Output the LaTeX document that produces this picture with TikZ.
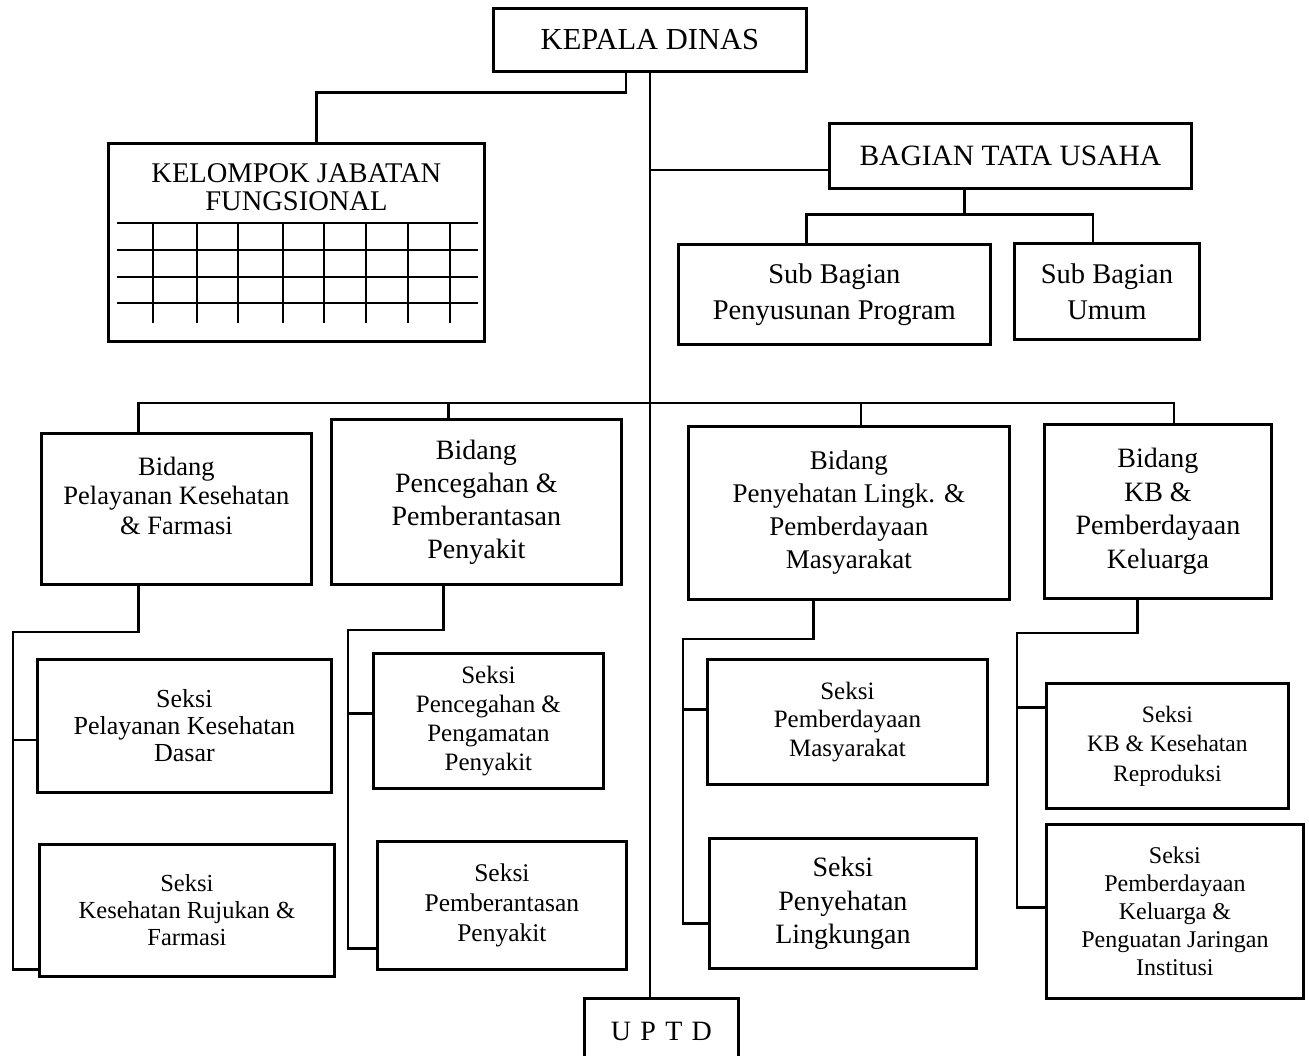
\documentclass[tikz,border=0pt]{standalone}
\usepackage{fontspec}
\setmainfont{Liberation Serif}

\tikzset{
  box/.style={draw, line width=2.8pt, align=center, anchor=north west, inner sep=0pt},
  link/.style={line width=2.6pt},
  grid/.style={line width=1.9pt},
  fs/.style 2 args={font=\fontsize{#1}{#2}\selectfont},
}

\begin{document}
\begin{tikzpicture}[x=1pt, y=-1pt]
  \useasboundingbox (0,0) rectangle (1309,1056);
  \clip (0,0) rectangle (1309,1056);

  % top level
  \node[box, fs={30.5}{34}, minimum width=313pt, minimum height=63pt] (kd) at (492,7) {KEPALA DINAS};
  \node[box, minimum width=376pt, minimum height=198pt,
        label={[fs={28.5}{28}, align=center, yshift=55pt]center:KELOMPOK JABATAN\\FUNGSIONAL}] (kjf) at (107,142) {};
  \node[box, fs={29.5}{34}, minimum width=362pt, minimum height=65pt] (btu) at (828,122) {BAGIAN TATA USAHA};
  \node[box, fs={28.5}{36}, minimum width=312pt, minimum height=100pt] (sbp) at (677,243) {Sub Bagian\\Penyusunan Program};
  \node[box, fs={28.5}{36}, minimum width=185pt, minimum height=96pt] (sbu) at (1013,242) {Sub Bagian\\Umum};

  % grid in kelompok jabatan fungsional
  \foreach \y in {223,250,277,303}
    \draw[grid] (117,\y) -- (478,\y);
  \foreach \x in {153,197,238,283,324,366,408,450}
    \draw[grid] (\x,223) -- (\x,323);

  % bidang
  \node[box, minimum width=270pt, minimum height=151pt,
        label={[fs={26.5}{29.5}, align=center, yshift=13pt]center:Bidang\\Pelayanan Kesehatan\\\& Farmasi}] (b1) at (40,432) {};
  \node[box, fs={28}{33}, minimum width=290pt, minimum height=165pt] (b2) at (330,418) {Bidang\\Pencegahan \&\\Pemberantasan\\Penyakit};
  \node[box, fs={27}{33}, minimum width=321pt, minimum height=173pt] (b3) at (687,425) {Bidang\\Penyehatan Lingk. \&\\Pemberdayaan\\Masyarakat};
  \node[box, fs={28}{33.5}, minimum width=227pt, minimum height=174pt] (b4) at (1043,423) {Bidang\\KB \&\\Pemberdayaan\\Keluarga};

  % seksi
  \node[box, fs={26}{27}, minimum width=294pt, minimum height=133pt] (s1) at (36,658) {Seksi\\Pelayanan Kesehatan\\Dasar};
  \node[box, fs={24.5}{27}, minimum width=295pt, minimum height=132pt] (s2) at (38,843) {Seksi\\Kesehatan Rujukan \&\\Farmasi};
  \node[box, fs={25}{29}, minimum width=230pt, minimum height=135pt] (s3) at (372,652) {Seksi\\Pencegahan \&\\Pengamatan\\Penyakit};
  \node[box, fs={25.5}{30}, minimum width=249pt, minimum height=128pt] (s4) at (376,840) {Seksi\\Pemberantasan\\Penyakit};
  \node[box, fs={25}{28.5}, minimum width=280pt, minimum height=125pt] (s5) at (706,658) {Seksi\\Pemberdayaan\\Masyarakat};
  \node[box, fs={28}{33.5}, minimum width=267pt, minimum height=130pt] (s6) at (708,837) {Seksi\\Penyehatan\\Lingkungan};
  \node[box, fs={23.5}{29.5}, minimum width=242pt, minimum height=125pt] (s7) at (1045,682) {Seksi\\KB \& Kesehatan\\Reproduksi};
  \node[box, fs={24}{28}, minimum width=257pt, minimum height=174pt] (s8) at (1045,823) {Seksi\\Pemberdayaan\\Keluarga \&\\Penguatan Jaringan\\Institusi};

  \node[box, fs={28}{34}, minimum width=154pt, minimum height=66pt] (uptd) at (583,997) {U\,\,P\,\,T\,\,D};

  % lines from kepala dinas
  \draw[link] ([xshift=-24pt]kd.south) -- ++(0,20) -| ([xshift=20pt]kjf.north);
  \draw[link] (kd.south) -- (kd.south |- uptd.north);
  \draw[link] ([yshift=-14pt]btu.west) -- ([yshift=-14pt]btu.west -| kd.south);
  \draw[link] ([xshift=-46pt]btu.south) -- ++(0,25) coordinate (tu);
  \draw[link] ([xshift=-28pt]sbp.north) |- (tu) -| ([xshift=-14pt]sbu.north);

  % bar over the bidang
  \path (kd.south) ++(0,330) coordinate (bar);
  \draw[link] ([xshift=-38pt]b1.north) |- (bar) -| ([xshift=16pt]b4.north);
  \draw[link] ([xshift=-28pt]b2.north) -- ([xshift=-28pt]b2.north |- bar);
  \draw[link] ([xshift=12pt]b3.north) -- ([xshift=12pt]b3.north |- bar);

  % bidang to seksi
  \foreach \up/\dx/\rx/\ry/\ca/\dya/\cb/\dyb in {
      b1/-38/13/632/s1/-14/s2/-59,
      b2/-33/348/630/s3/7.5/s4/-43,
      b3/-35.5/683/639/s5/12.5/s6/-20,
      b4/-20.5/1017/633/s7/38.5/s8/4}
  {
    \coordinate (rail) at (\rx,\ry);
    \draw[link] ([xshift=\dx pt]\up.south) |- (rail) |- ([yshift=\dyb pt]\cb.west);
    \draw[link] ([yshift=\dya pt]\ca.west) -- ([yshift=\dya pt]\ca.west -| rail);
  }
\end{tikzpicture}
\end{document}
